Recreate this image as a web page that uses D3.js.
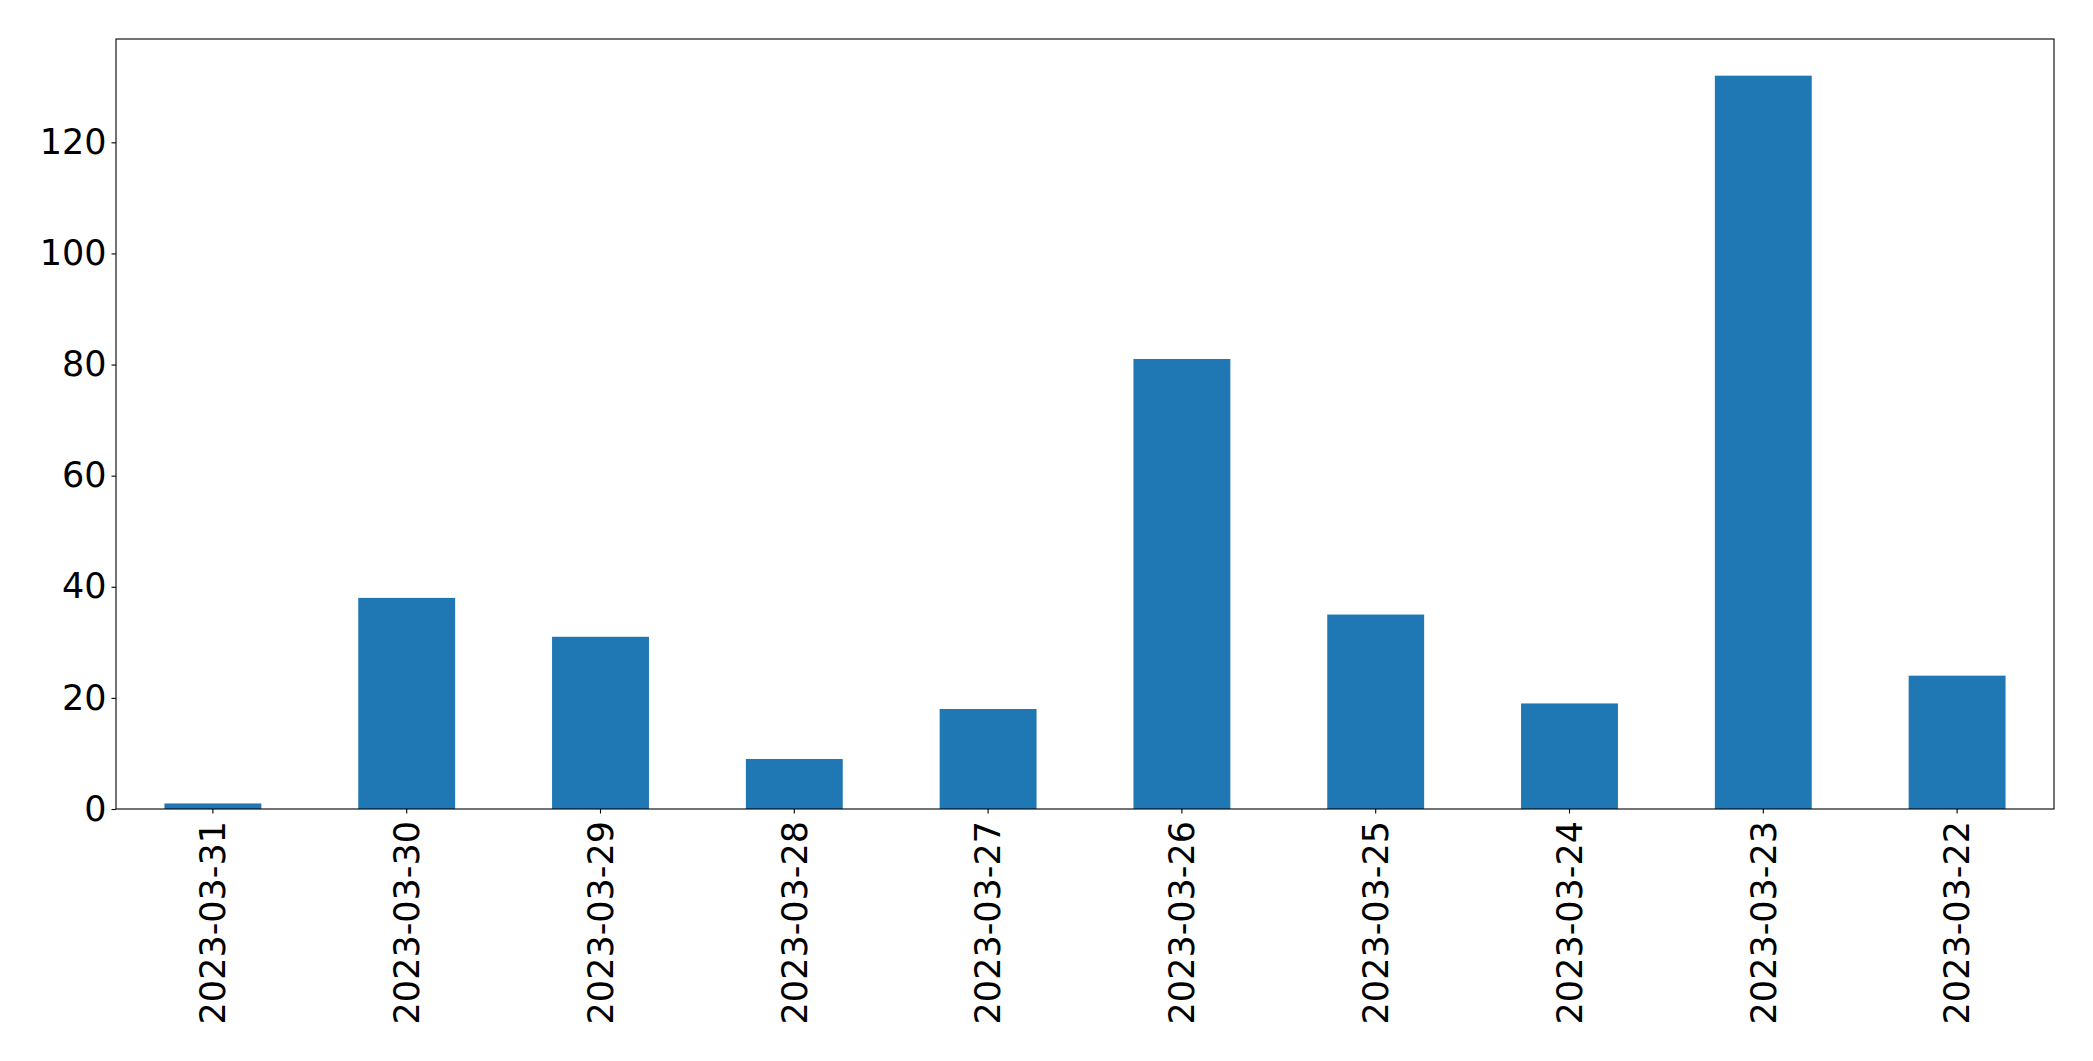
<!DOCTYPE html>
<html><head><meta charset="utf-8">
<script src="https://cdn.jsdelivr.net/npm/d3@7"></script>
<style>body{margin:0;background:#fff}svg{display:block}</style>
</head><body>
<script>
const categories = ["2023-03-31","2023-03-30","2023-03-29","2023-03-28","2023-03-27","2023-03-26","2023-03-25","2023-03-24","2023-03-23","2023-03-22"];
const values = [1, 38, 31, 9, 18, 81, 35, 19, 132, 24];
const yTicks = [0, 20, 40, 60, 80, 100, 120];

const W = 2093, H = 1061;
const m = {left: 116, right: 2054, top: 39, bottom: 809};
const svg = d3.select("body").append("svg").attr("width", W).attr("height", H);

const x = d3.scaleBand().domain(categories).range([m.left, m.right]).paddingInner(0.5).paddingOuter(0.25);
const y = d3.scaleLinear().domain([0, d3.max(values) * 1.05]).range([m.bottom, m.top]);

svg.append("g").selectAll("rect").data(values).join("rect")
  .attr("x", (d, i) => x(categories[i]))
  .attr("width", x.bandwidth())
  .attr("y", d => y(d))
  .attr("height", d => y(0) - y(d))
  .attr("fill", "#1f77b4");

const font = "DejaVu Sans";
const yAxis = svg.append("g").attr("transform", `translate(${m.left},0)`)
  .call(d3.axisLeft(y).tickValues(yTicks).tickSize(4.5).tickPadding(5).tickSizeOuter(0));
yAxis.select(".domain").remove();
yAxis.selectAll("line").attr("stroke", "#000").attr("stroke-width", 1.1);
yAxis.selectAll("text").attr("font-family", font).attr("font-size", 35).attr("fill", "#000");

const xAxis = svg.append("g").attr("transform", `translate(0,${m.bottom})`)
  .call(d3.axisBottom(x).tickSize(4.5).tickSizeOuter(0));
xAxis.select(".domain").remove();
xAxis.selectAll("line").attr("stroke", "#000").attr("stroke-width", 1.1);
xAxis.selectAll("text")
  .attr("font-family", font).attr("font-size", 35).attr("fill", "#000")
  .attr("transform", "rotate(-90)")
  .attr("x", -12).attr("y", 0).attr("dy", "0.35em")
  .attr("text-anchor", "end");

svg.append("rect").attr("x", m.left).attr("y", m.top)
  .attr("width", m.right - m.left).attr("height", m.bottom - m.top)
  .attr("fill", "none").attr("stroke", "#000").attr("stroke-width", 1.1);
</script>
</body></html>
